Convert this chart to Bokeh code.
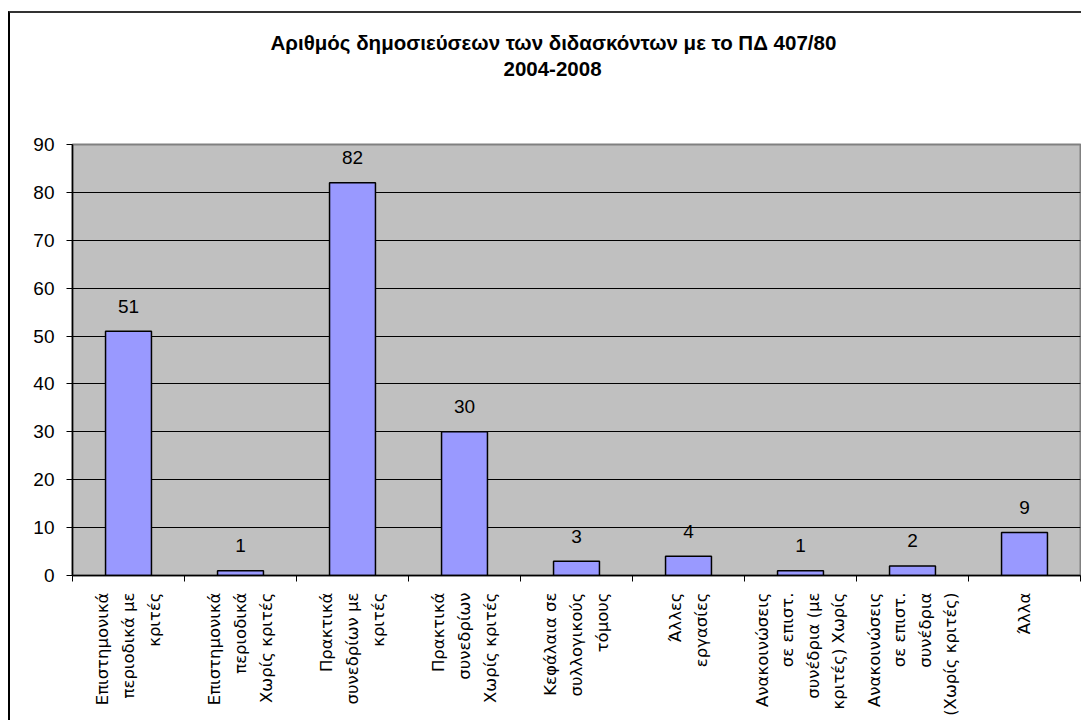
import math
from bokeh.plotting import figure
from bokeh.models import Range1d, FixedTicker, ColumnDataSource, Title
from bokeh.core.properties import value
from bokeh.embed import file_html
from bokeh.resources import INLINE

title_lines = ["Αριθμός δημοσιεύσεων των διδασκόντων με το ΠΔ 407/80", "2004-2008"]
categories = [
    "Επιστημονικά\nπεριοδικά με\nκριτές",
    "Επιστημονικά\nπεριοδικά\nΧωρίς κριτές",
    "Πρακτικά\nσυνεδρίων με\nκριτές",
    "Πρακτικά\nσυνεδρίων\nΧωρίς κριτές",
    "Κεφάλαια σε\nσυλλογικούς\nτόμους",
    "Άλλες\nεργασίες",
    "Ανακοινώσεις\nσε επιστ.\nσυνέδρια (με\nκριτές) Χωρίς",
    "Ανακοινώσεις\nσε επιστ.\nσυνέδρια\n(Χωρίς κριτές)",
    "Άλλα",
]
counts = [51, 1, 82, 30, 3, 4, 1, 2, 9]
y_ticks = [0, 10, 20, 30, 40, 50, 60, 70, 80, 90]

n = len(categories)
centers = [i + 0.5 for i in range(n)]
bounds = list(range(n + 1))

src = ColumnDataSource(dict(x=centers, top=counts, lab=[str(c) for c in counts]))

p = figure(width=1073, height=709, output_backend="svg", toolbar_location=None,
           x_range=Range1d(0, n), y_range=Range1d(0, 90),
           min_border_left=62, min_border_right=3, min_border_top=131,
           min_border_bottom=147)
p.styles = {"border-top": "2px solid #333333", "border-left": "2px solid #000000",
            "margin": "11px 0px 0px 8px"}

# outer title line
t1 = p.title
t1.text = title_lines[0]
t1.align = "left"
t1.offset = 198
t1.text_font = "Liberation Sans"
t1.text_font_size = "20.5px"
t1.text_font_style = "bold"
t1.text_color = "black"
t1.standoff = 4
# blank spacer between title and plot area (nearest the frame)
sp = Title(text=" ", text_font_size="10px", standoff=52)
p.add_layout(sp, "above")
# second title line
t2 = Title(text=title_lines[1], align="left", offset=431, text_font="Liberation Sans",
           text_font_size="20.5px", text_font_style="bold", text_color="black", standoff=8)
p.add_layout(t2, "above")

p.background_fill_color = "#C0C0C0"
p.border_fill_color = "white"
p.outline_line_color = "#808080"
p.outline_line_width = 2

p.vbar(x="x", top="top", width=0.41, source=src, fill_color="#9999FF",
       line_color="black", line_width=1.5)
p.text(x="x", y="top", text="lab", source=src, text_align="center",
       text_baseline="alphabetic", y_offset=-25, text_font=value("Liberation Sans"),
       text_font_size="19px", text_color="black")

p.xgrid.visible = False
p.ygrid.grid_line_color = "black"
p.ygrid.grid_line_width = 1
p.ygrid.ticker = FixedTicker(ticks=y_ticks)

xa = p.xaxis[0]
xa.ticker = FixedTicker(ticks=centers, minor_ticks=bounds)
xa.major_label_overrides = {c: lab for c, lab in zip(centers, categories)}
xa.major_label_orientation = math.pi / 2
xa.major_tick_out = 0
xa.major_tick_in = 0
xa.minor_tick_out = 6
xa.minor_tick_in = 0
xa.minor_tick_line_color = "black"
xa.axis_line_color = "black"
xa.axis_line_width = 1.5
xa.major_label_standoff = 11
xa.major_label_text_font = "DejaVu Sans"
xa.major_label_text_font_size = "16.5px"
xa.major_label_text_line_height = 1.35
xa.major_label_text_color = "black"

ya = p.yaxis[0]
ya.ticker = FixedTicker(ticks=y_ticks)
ya.major_tick_out = 6
ya.major_tick_in = 0
ya.minor_tick_line_color = None
ya.major_tick_line_color = "black"
ya.axis_line_color = "black"
ya.axis_line_width = 1.5
ya.major_label_standoff = 12
ya.major_label_text_font = "Liberation Sans"
ya.major_label_text_font_size = "19px"
ya.major_label_text_color = "black"

open("out.html", "w").write(file_html(p, INLINE))
